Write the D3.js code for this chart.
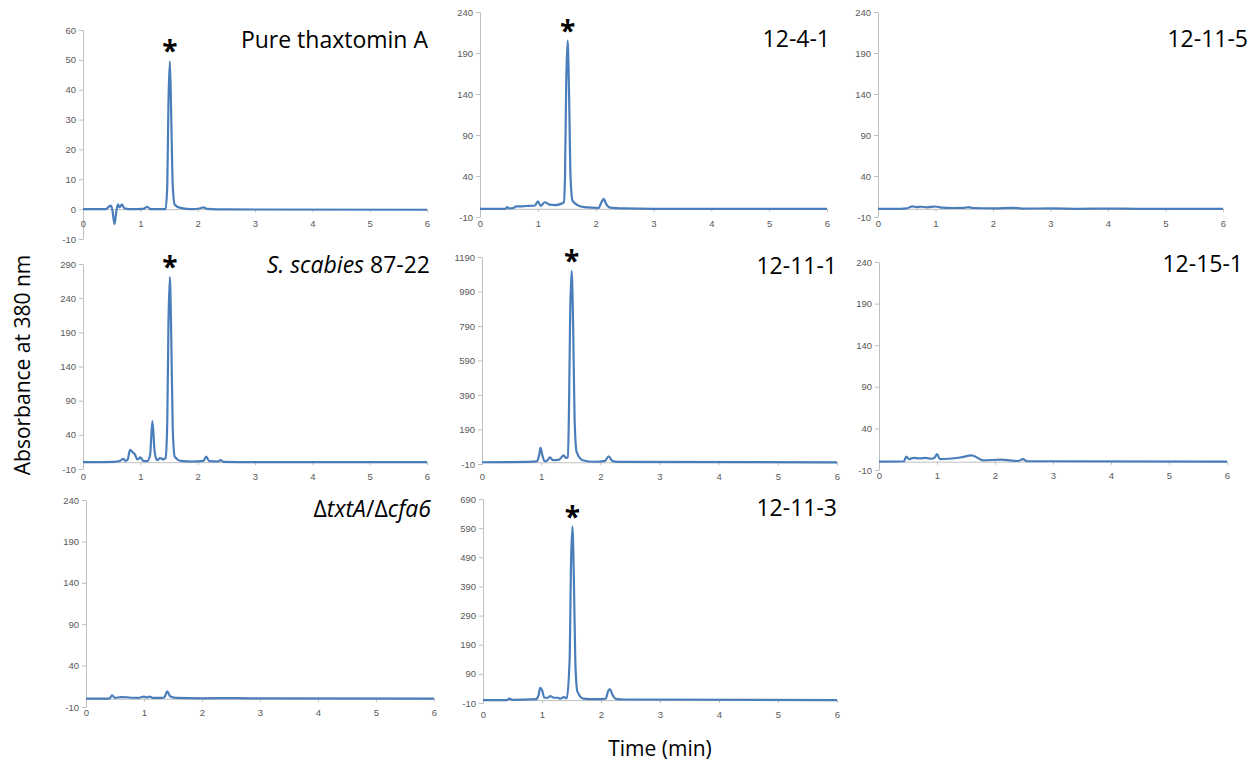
<!DOCTYPE html>
<html>
<head>
<meta charset="utf-8">
<script src="https://cdn.jsdelivr.net/npm/d3@7"></script>
<style>
  body { margin: 0; background: #fff; }
  svg { display: block; font-family: "Open Sans", sans-serif; }
  .tick text { fill: #595959; font-size: 9.5px; }
  .tick line, .domain { stroke: #bfbfbf; }
</style>
</head>
<body>
<svg id="chart" width="1258" height="767"></svg>
<script>

// retention time (min) vs absorbance at 380 nm
var pureThaxtomin = [[0,0],[0.4,0],[0.45,0.8],[0.48,1.2],[0.51,0],[0.55,-5],[0.58,-1],[0.61,1.6],[0.64,0.6],[0.68,1.6],[0.72,0.3],[0.8,0],[1.05,0.1],[1.12,0.8],[1.18,0],[1.44,0],[1.47,8],[1.49,35],[1.515,49.5],[1.54,30],[1.565,8],[1.6,1.5],[1.7,0.4],[1.9,0],[2.05,0.3],[2.1,0.6],[2.17,0.1],[2.5,-0.1],[6,-0.2]];
var strain1241 = [[0,0],[0.44,0],[0.47,2],[0.5,0.5],[0.58,1],[0.62,3],[0.7,3],[0.8,3.4],[0.95,4],[1.0,9],[1.05,3.5],[1.12,8],[1.2,5],[1.3,4.5],[1.4,6],[1.45,8],[1.47,40],[1.49,150],[1.515,205],[1.54,140],[1.565,40],[1.6,10],[1.7,4],[1.8,2],[2.05,1],[2.1,8],[2.14,12],[2.18,6],[2.25,1.5],[2.5,0.5],[3,0],[6,0]];
var strain12115 = [[0,0],[0.4,0],[0.5,0.5],[0.6,3],[0.67,2],[0.75,2.5],[0.85,1.8],[1.0,2.8],[1.1,1.5],[1.3,1],[1.5,1.2],[1.57,2],[1.65,1],[2.0,0.6],[2.35,1.2],[2.5,0.3],[3,0.4],[3.5,0],[4,0.3],[4.5,0],[6,0]];
var scabies8722 = [[0,0],[0.55,0.5],[0.65,2],[0.7,5],[0.74,2],[0.78,4],[0.82,18],[0.86,15],[0.9,12],[0.95,4],[1.0,7],[1.05,2],[1.12,1.5],[1.17,10],[1.21,60],[1.25,15],[1.29,3],[1.35,6],[1.4,4],[1.44,6],[1.47,60],[1.49,200],[1.515,271],[1.54,180],[1.565,50],[1.6,8],[1.7,2],[1.9,1],[2.1,2],[2.15,8],[2.2,1.5],[2.35,1],[2.4,3],[2.45,0.5],[3,0],[6,0]];
var strain12111 = [[0,0],[0.8,2],[0.93,5],[0.97,50],[0.99,83],[1.02,40],[1.06,5],[1.1,10],[1.15,28],[1.2,12],[1.3,15],[1.38,40],[1.42,25],[1.45,30],[1.47,300],[1.49,850],[1.515,1110],[1.54,800],[1.565,250],[1.6,60],[1.7,12],[1.9,3],[2.08,8],[2.14,35],[2.2,8],[2.3,2],[6,0]];
var strain12151 = [[0,0],[0.43,0.5],[0.47,6],[0.52,3],[0.56,4],[0.6,4.5],[0.7,4],[0.8,4.5],[0.9,3.5],[0.96,5],[1.0,9],[1.05,3],[1.2,3.5],[1.4,5],[1.6,7.5],[1.8,1.5],[2.1,2.5],[2.4,0.8],[2.48,3],[2.55,0.5],[3,0.5],[6,0]];
var txtAcfa6 = [[0,0],[0.4,0],[0.45,4],[0.5,1],[0.6,2],[0.7,1.8],[0.8,1.2],[0.9,1],[1.0,2.5],[1.05,1.5],[1.1,2.5],[1.15,1],[1.3,1],[1.35,1.5],[1.4,9],[1.45,3],[1.55,1],[2,0.5],[2.6,0.7],[3,0.3],[6,0]];
var strain12113 = [[0,0],[0.4,0],[0.45,5],[0.5,1],[0.9,3],[0.94,15],[0.97,42],[1.0,35],[1.04,8],[1.1,8],[1.14,14],[1.2,8],[1.27,8],[1.31,5],[1.37,10],[1.42,6],[1.47,150],[1.49,450],[1.515,595],[1.54,420],[1.565,130],[1.6,30],[1.7,5],[1.9,3],[2.08,5],[2.12,30],[2.15,38],[2.19,20],[2.25,4],[2.4,2],[6,0]];

// y axis ranges [min, max, step] per panel
var yTicks = {
    pure: [-10, 60, 10],
    small: [-10, 240, 50],
    scab: [-10, 290, 50],
    big: [-10, 1190, 200],
    mid: [-10, 690, 100]
};
var xTicks = [0, 1, 2, 3, 4, 5, 6];

var svg = d3.select("#chart");

// layout: plot box + where the sample label goes
var panels = [
    {data: pureThaxtomin, ticks: yTicks.pure, x0: 83, x1: 427, top: 30, bottom: 239, tx: 428, ty: 48, star: true,
        label: [["Pure thaxtomin A", false]]},
    {data: strain1241, ticks: yTicks.small, x0: 480, x1: 827, top: 12, bottom: 217, tx: 830, ty: 47, star: true,
        label: [["12-4-1", false]]},
    {data: strain12115, ticks: yTicks.small, x0: 878, x1: 1223, top: 12, bottom: 217, tx: 1248, ty: 47, star: false,
        label: [["12-11-5", false]]},
    {data: scabies8722, ticks: yTicks.scab, x0: 83, x1: 427, top: 264, bottom: 469, tx: 430, ty: 273, star: true,
        label: [["S. scabies", true], [" 87-22", false]]},
    {data: strain12111, ticks: yTicks.big, x0: 482, x1: 837, top: 257, bottom: 464, tx: 837, ty: 274, star: true,
        label: [["12-11-1", false]]},
    {data: strain12151, ticks: yTicks.small, x0: 879, x1: 1227, top: 262, bottom: 470, tx: 1243, ty: 272, star: false,
        label: [["12-15-1", false]]},
    {data: txtAcfa6, ticks: yTicks.small, x0: 86, x1: 434, top: 500, bottom: 707, tx: 431, ty: 517, star: false,
        label: [["\u0394", false], ["txtA", true], ["/\u0394", false], ["cfa6", true]]},
    {data: strain12113, ticks: yTicks.mid, x0: 483, x1: 837, top: 499, bottom: 703, tx: 837, ty: 516, star: true,
        label: [["12-11-3", false]]}
];

function plain(d) { return String(d); }

panels.forEach(function (p) {
    var x = d3.scaleLinear().domain([0, 6]).range([p.x0, p.x1]);
    var y = d3.scaleLinear().domain([p.ticks[0], p.ticks[1]]).range([p.bottom, p.top]);
    var g = svg.append("g");

    g.append("g")
        .attr("transform", "translate(" + p.x0 + ",0)")
        .call(d3.axisLeft(y)
            .tickValues(d3.range(p.ticks[0], p.ticks[1] + 1, p.ticks[2]))
            .tickFormat(plain)
            .tickSize(4).tickSizeOuter(0).tickPadding(3));

    g.append("g")
        .attr("transform", "translate(0," + y(0) + ")")
        .call(d3.axisBottom(x).tickValues(xTicks).tickFormat(plain)
            .tickSize(3).tickSizeOuter(0).tickPadding(8));

    var line = d3.line()
        .x(function (d) { return x(d[0]); })
        .y(function (d) { return y(d[1]); })
        .curve(d3.curveMonotoneX);

    g.append("path")
        .datum(p.data)
        .attr("fill", "none")
        .attr("stroke", "#4a7ebb")
        .attr("stroke-width", 2.2)
        .attr("stroke-linejoin", "round")
        .attr("d", line);

    var t = g.append("text")
        .attr("x", p.tx)
        .attr("y", p.ty)
        .attr("text-anchor", "end")
        .style("font-size", "23px")
        .style("fill", "#000");
    p.label.forEach(function (s) {
        t.append("tspan").text(s[0]).style("font-style", s[1] ? "italic" : "normal");
    });

    if (p.star) {
        var top = p.data.reduce(function (a, b) { return b[1] > a[1] ? b : a; });
        g.append("text")
            .attr("x", x(top[0]))
            .attr("y", y(top[1]))
            .attr("text-anchor", "middle")
            .style("font-size", "28px")
            .style("font-weight", "bold")
            .text("*");
    }
});

svg.append("text")
    .attr("transform", "translate(30,365) rotate(-90)")
    .attr("text-anchor", "middle")
    .style("font-size", "21px")
    .text("Absorbance at 380 nm");

svg.append("text")
    .attr("x", 660)
    .attr("y", 756)
    .attr("text-anchor", "middle")
    .style("font-size", "21px")
    .text("Time (min)");

</script>
</body>
</html>
